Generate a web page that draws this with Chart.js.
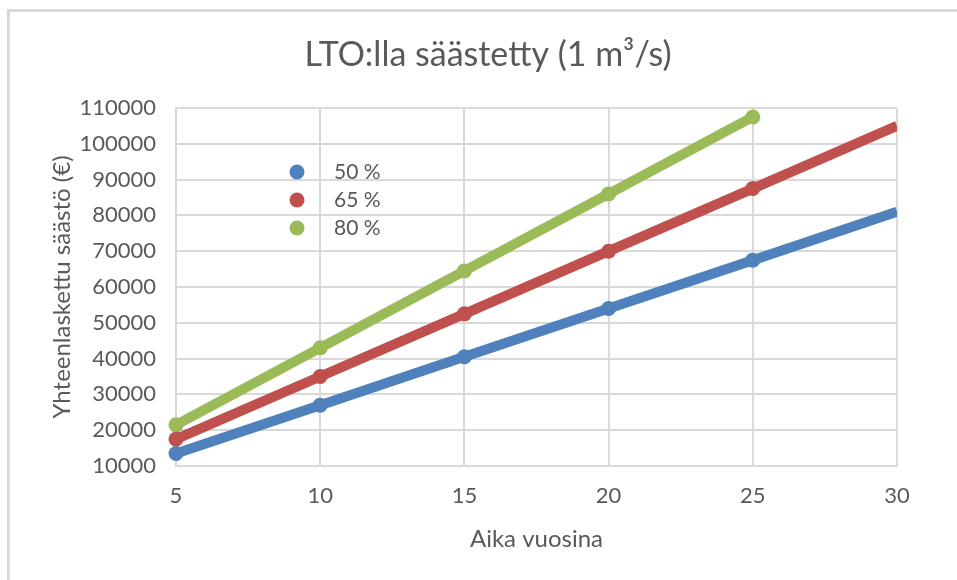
<!DOCTYPE html>
<html>
<head>
<meta charset="utf-8">
<script src="https://cdn.jsdelivr.net/npm/chart.js@4.4.1/dist/chart.umd.min.js"></script>
<style>
    html, body { margin: 0; padding: 0; background: #fff; overflow: hidden; }
    #frame {
        position: absolute; left: 7px; top: 9px; width: 2000px; height: 2000px;
        border-left: 3px solid #d9d9d9; border-top: 3px solid #d9d9d9;
    }
    #wrap { position: absolute; left: 0; top: 0; width: 957px; height: 580px; }
</style>
</head>
<body>
<div id="frame"></div>
<div id="wrap"><canvas id="lto"></canvas></div>
<script>
// vuodet ja säästöt (€) eri hyötysuhteilla
const years = [5, 10, 15, 20, 25, 30];
const saving50 = [13500, 27000, 40500, 54000, 67500, 81000];
const saving65 = [17500, 35000, 52500, 70000, 87500, 105000];
const saving80 = [21500, 43000, 64500, 86000, 107500];
const seriesNames = ['50 %', '65 %', '80 %'];
const chartTitle = 'LTO:lla säästetty (1 m³/s)';

const FONT = 'Lato, Calibri, Carlito, sans-serif';
const TEXT = '#595959';
const GRID = '#d9d9d9';

function toPoints(vals) {
    return vals.map((v, i) => ({ x: years[i], y: v }));
}

function makeSet(label, vals, color) {
    return {
        label: label,
        data: toPoints(vals),
        borderColor: color,
        backgroundColor: color,
        borderWidth: 10,
        // marker on the right edge is cut off in the original
        pointRadius: (c) => (c.raw && c.raw.x >= 30 ? 0 : 7.5),
        pointHoverRadius: 7.5,
        pointBorderWidth: 0,
        tension: 0,
        clip: { left: false, top: false, right: 0, bottom: false },
    };
}

const titlePlugin = {
    id: 'ownTitle',
    afterDraw(chart) {
        const ctx = chart.ctx;
        ctx.save();
        ctx.fillStyle = TEXT;
        ctx.font = '34px ' + FONT;
        ctx.textAlign = 'center';
        ctx.textBaseline = 'middle';
        ctx.fillText(chartTitle, 488, 55);
        ctx.restore();
    }
};

const legendPlugin = {
    id: 'ownLegend',
    afterDraw(chart) {
        const ctx = chart.ctx;
        ctx.save();
        ctx.font = '21px ' + FONT;
        ctx.textBaseline = 'middle';
        chart.data.datasets.forEach((ds, i) => {
            const y = 172 + i * 28;
            ctx.fillStyle = ds.backgroundColor;
            ctx.beginPath();
            ctx.arc(297, y, 7.5, 0, Math.PI * 2);
            ctx.fill();
            ctx.fillStyle = TEXT;
            ctx.fillText(ds.label, 334, y);
        });
        ctx.restore();
    }
};

let ltoChart = document.querySelector('#lto').getContext('2d');
new Chart(ltoChart, {
    type: 'line',
    data: {
        datasets: [
            makeSet(seriesNames[0], saving50, '#4f81bd'),
            makeSet(seriesNames[1], saving65, '#c0504d'),
            makeSet(seriesNames[2], saving80, '#9bbb59'),
        ]
    },
    options: {
        responsive: true,
        maintainAspectRatio: false,
        animation: false,
        events: [],
        layout: { padding: { top: 108, right: 60, bottom: 0, left: 0 } },
        plugins: {
            legend: { display: false },
            title: { display: false },
            tooltip: { enabled: false },
        },
        scales: {
            x: {
                type: 'linear',
                min: 5,
                max: 30,
                ticks: { stepSize: 5, color: TEXT, font: { family: FONT, size: 22 }, padding: 17, maxRotation: 0,
                    callback: (v) => String(v) },
                grid: { color: GRID, lineWidth: 2, drawTicks: false },
                border: { color: GRID, width: 2 },
                title: { display: true, text: 'Aika vuosina', color: TEXT, font: { family: FONT, size: 24 }, padding: { top: 0, bottom: 26 } },
                afterFit(scale) { scale.height = 114; },
            },
            y: {
                min: 10000,
                max: 110000,
                ticks: { stepSize: 10000, color: TEXT, font: { family: FONT, size: 22 }, padding: 20,
                    callback: (v) => String(v) },
                grid: { color: GRID, lineWidth: 2, drawTicks: false },
                border: { color: GRID, width: 2 },
                title: { display: true, text: 'Yhteenlaskettu säästö (€)', color: TEXT, font: { family: FONT, size: 24 }, padding: { top: 48, bottom: 0 } },
                afterFit(scale) { scale.width = 176; },
            }
        }
    },
    plugins: [titlePlugin, legendPlugin]
});
</script>
</body>
</html>
